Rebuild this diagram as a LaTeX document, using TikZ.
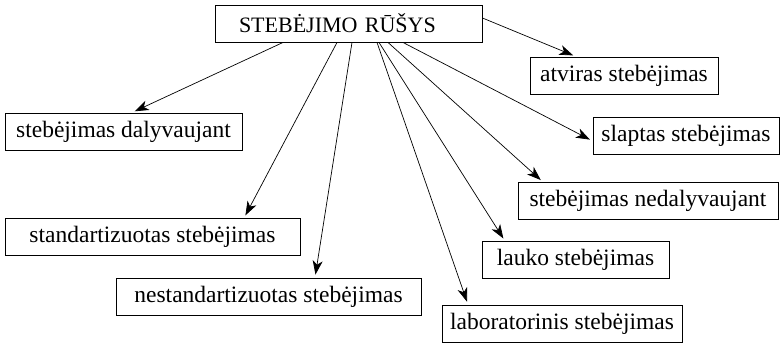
\documentclass[tikz,border=0pt]{standalone}
\usepackage{fontspec}
\setmainfont{Liberation Serif}
\usetikzlibrary{arrows.meta}
\begin{document}
\begin{tikzpicture}[x=1pt,y=-1pt]
\tikzset{
box/.style={rectangle,draw,line width=0.9pt,minimum height=37pt,inner sep=0pt},
edge/.style={->,line width=0.7pt,shorten >=3pt},
>={Stealth[length=14pt,width=10pt,inset=4pt]},
font={\fontsize{23.5pt}{28pt}\selectfont}
}

\useasboundingbox (0,0) rectangle (780,344);

\node[box,text width=219pt,align=left,inner xsep=24pt,font={\fontsize{22pt}{26pt}\selectfont}] (top) at (348.5,23.5) {STEBĖJIMO RŪŠYS};
\node[box,minimum width=188pt] (atv) at (624,75.5) {atviras stebėjimas};
\node[box,minimum width=186pt] (slap) at (686,135.5) {slaptas stebėjimas};
\node[box,minimum width=237pt] (dal) at (123.5,131.5) {stebėjimas dalyvaujant};
\node[box,minimum width=260pt] (nedal) at (648,201) {stebėjimas nedalyvaujant};
\node[box,minimum width=295pt] (std) at (152.5,237) {standartizuotas stebėjimas};
\node[box,minimum width=187pt] (lauk) at (575.5,260) {lauko stebėjimas};
\node[box,minimum width=305pt] (nstd) at (268.5,296.5) {nestandartizuotas stebėjimas};
\node[box,minimum width=240pt] (lab) at (562,323.5) {laboratorinis stebėjimas};


\path[edge]
 (top.east |- 0,18) edge (atv.north -| 576,0)
 (top.south -| 403,0) edge (slap.west |- 0,141)
 (top.south -| 283,0) edge (dal.north -| 132,0)
 (top.south -| 388,0) edge (nedal.north -| 543,0)
 (top.south -| 337,0) edge (std.north -| 244,0)
 (top.south -| 379,0) edge (lauk.north -| 505,0)
 (top.south -| 352,0) edge (nstd.north -| 315,0)
 (top.south -| 377,0) edge (lab.north -| 468,0)
;
\end{tikzpicture}
\end{document}
